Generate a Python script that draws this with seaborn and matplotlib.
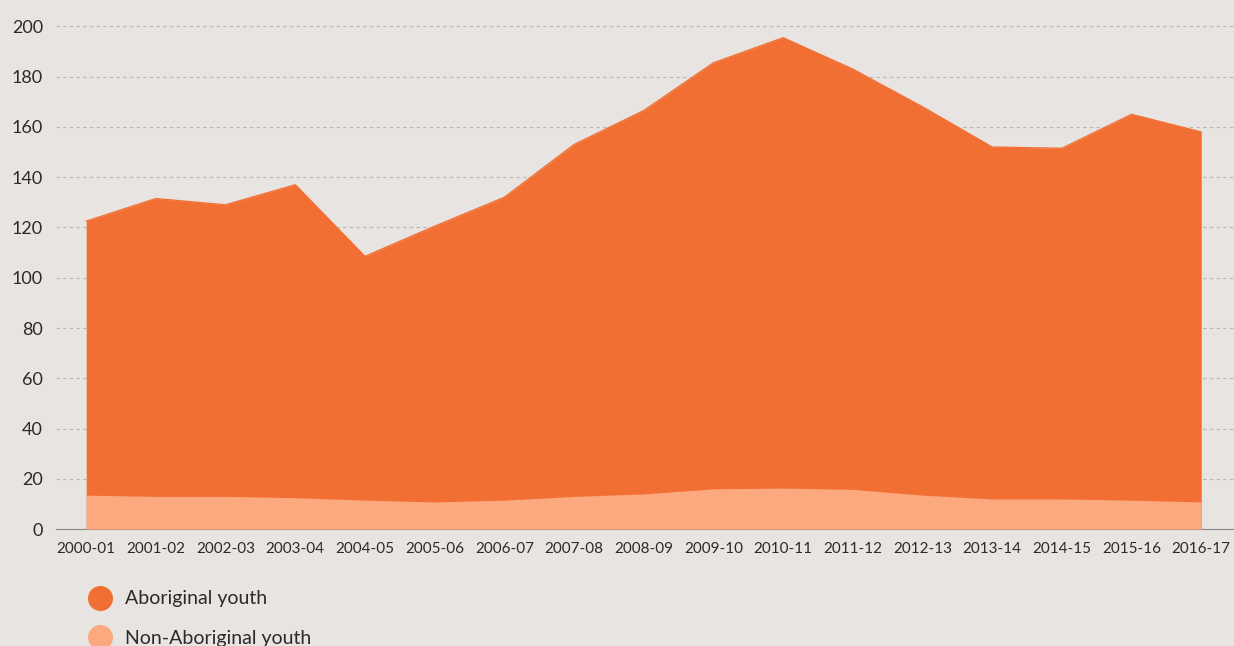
import matplotlib
matplotlib.use("Agg")
import matplotlib.pyplot as plt
from matplotlib.lines import Line2D
import seaborn as sns
import pandas as pd
import numpy as np

years = ["2000-01", "2001-02", "2002-03", "2003-04", "2004-05", "2005-06", "2006-07",
         "2007-08", "2008-09", "2009-10", "2010-11", "2011-12", "2012-13", "2013-14",
         "2014-15", "2015-16", "2016-17"]
aboriginal = [122.5, 131.5, 129, 137, 108.5, 120.5, 132, 153, 166.5, 185.5, 195.5,
              183, 168, 152, 151.5, 165, 158]
non_aboriginal = [13.5, 13, 13, 12.5, 11.5, 10.8, 11.5, 13, 14, 16, 16.3, 15.8,
                  13.5, 12, 12, 11.5, 10.8]
yticks = [0, 20, 40, 60, 80, 100, 120, 140, 160, 180, 200]

BG = "#E7E4E1"
DARK = "#F26F33"
LIGHT = "#FCA97F"

sns.set_theme(style="white")
plt.rcParams["font.family"] = ["Lato", "DejaVu Sans"]

df = pd.DataFrame({"year": years, "Aboriginal youth": aboriginal,
                   "Non-Aboriginal youth": non_aboriginal})
df["x"] = np.arange(len(df))

fig = plt.figure(figsize=(12.34, 6.46), dpi=100, facecolor=BG)
ax = fig.add_axes([0.045, 0.181, 0.955, 0.817])
ax.set_facecolor(BG)

ax.fill_between(df["x"], 0, df["Aboriginal youth"], color=DARK, linewidth=0, zorder=2)
ax.fill_between(df["x"], 0, df["Non-Aboriginal youth"], color=LIGHT, linewidth=0, zorder=3)
sns.lineplot(data=df, x="x", y="Aboriginal youth", ax=ax, color=DARK, linewidth=1.0, zorder=2)

ax.set_xlim(-0.44, 16.47)
ax.set_ylim(0, 210)
ax.set_yticks(yticks)
ax.set_yticklabels([str(v) for v in yticks])
ax.set_xticks(df["x"])
ax.set_xticklabels(years)
ax.set_xlabel("")
ax.set_ylabel("")
ax.yaxis.grid(True, linestyle=(0, (3, 3)), color="#B9B5B1", linewidth=0.8, zorder=1)
ax.xaxis.grid(False)
ax.set_axisbelow(True)
for s in ["top", "right", "left"]:
    ax.spines[s].set_visible(False)
ax.spines["bottom"].set_color("#8C8885")
ax.spines["bottom"].set_linewidth(0.8)
ax.tick_params(axis="y", length=0, labelsize=13, colors="#2B2B2B", pad=9)
ax.tick_params(axis="x", length=0, labelsize=11, colors="#2B2B2B", pad=9)

handles = [Line2D([0], [0], marker="o", color="none", markerfacecolor=DARK,
                  markeredgecolor=DARK, markersize=17),
           Line2D([0], [0], marker="o", color="none", markerfacecolor=LIGHT,
                  markeredgecolor=LIGHT, markersize=17)]
fig.legend(handles, ["Aboriginal youth", "Non-Aboriginal youth"], loc="upper left",
           bbox_to_anchor=(0.0715, 0.086), frameon=False, fontsize=14,
           handletextpad=0.69, labelspacing=1.15, borderaxespad=0, borderpad=0,
           handlelength=1.2, labelcolor="#2B2B2B")

fig.savefig("out.png", dpi=100, facecolor=BG)
